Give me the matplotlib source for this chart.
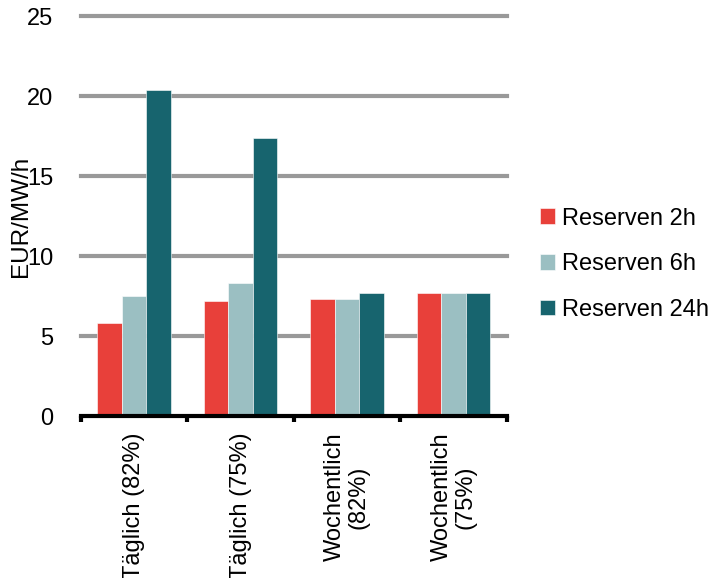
import matplotlib.pyplot as plt
import numpy as np

plt.rcParams["font.family"] = ["Liberation Sans", "DejaVu Sans"]

CATEGORIES = ["Täglich (82%)", "Täglich (75%)", "Wochentlich\n(82%)", "Wochentlich\n(75%)"]
SERIES = ["Reserven 2h", "Reserven 6h", "Reserven 24h"]
RES_2H = [5.85, 7.2, 7.35, 7.7]
RES_6H = [7.5, 8.35, 7.35, 7.7]
RES_24H = [20.4, 17.4, 7.7, 7.7]
COLORS = ["#E8403A", "#9BBFC2", "#17646E"]

fig = plt.figure(figsize=(7.09, 5.78), dpi=100)
ax = fig.add_axes([0.114, 0.280, 0.601, 0.692])

x = np.arange(len(CATEGORIES))
w = 0.23
for i, (vals, name, c) in enumerate(zip([RES_2H, RES_6H, RES_24H], SERIES, COLORS)):
    ax.bar(x + (i - 1) * w, vals, width=w, color=c, label=name,
           edgecolor="white", linewidth=0.4, zorder=3)

ax.set_xlim(-0.5, len(CATEGORIES) - 0.5)
ax.set_ylim(0, 25)
ax.set_yticks([0, 5, 10, 15, 20, 25])
for v in [5, 10, 15, 20, 25]:
    ax.axhline(v, color="#999999", linewidth=3, zorder=1, clip_on=False)

for s in ["top", "right", "left"]:
    ax.spines[s].set_visible(False)
ax.spines["bottom"].set_linewidth(3)
ax.spines["bottom"].set_zorder(4)

ax.set_xticks(x)
ax.set_xticklabels(CATEGORIES, rotation=90, va="top", ha="center",
                   multialignment="center", fontsize=17, linespacing=1.1)
ax.set_xticks(np.arange(-0.5, len(CATEGORIES)), minor=True)
ax.tick_params(axis="x", which="major", length=0, pad=12)
ax.tick_params(axis="x", which="minor", length=4, width=3, direction="out")
ax.tick_params(axis="y", length=0, labelsize=17, pad=20)

# label sits across the 10/15 tick labels, as in the original
ax.set_ylabel("EUR/MW/h", fontsize=17.5, labelpad=-4)

handles, labels = ax.get_legend_handles_labels()
fig.legend(handles, labels, loc="center left", bbox_to_anchor=(0.745, 0.543),
           frameon=False, fontsize=17, handlelength=0.65, handleheight=0.65,
           handletextpad=0.3, labelspacing=1.0, borderpad=0)

fig.savefig("out.png", dpi=100)
